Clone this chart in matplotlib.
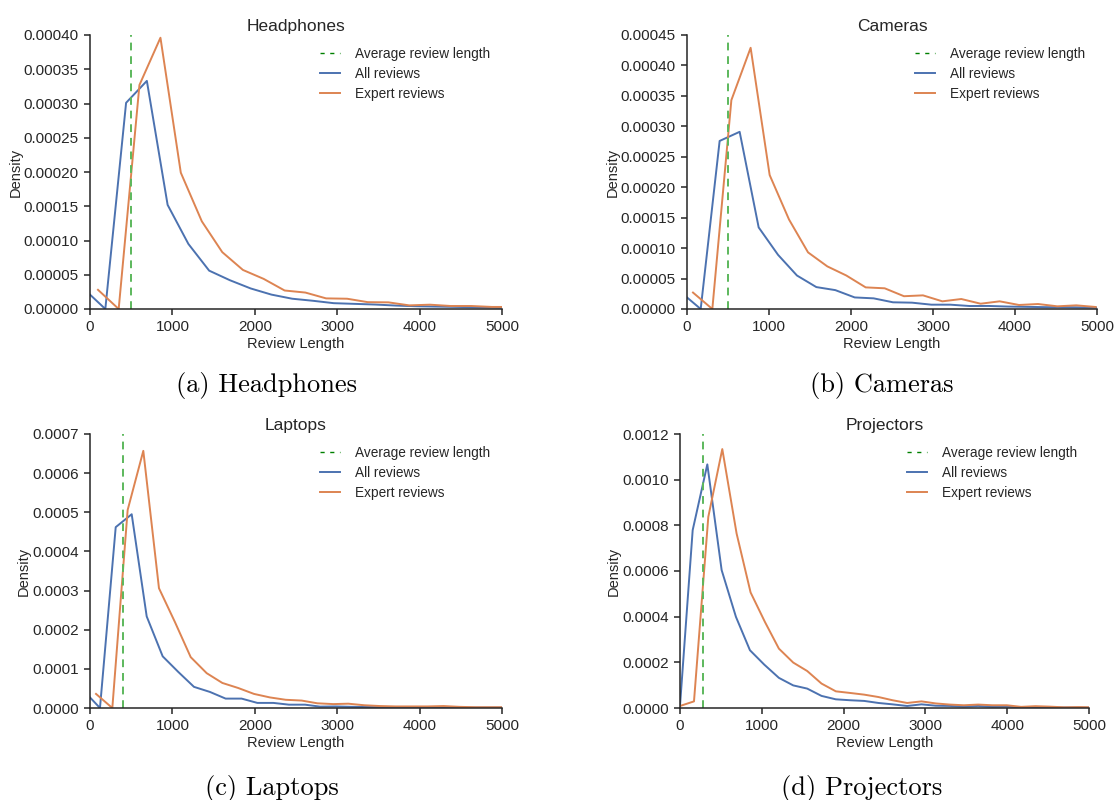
import matplotlib
matplotlib.use("Agg")
import matplotlib.pyplot as plt
from matplotlib.lines import Line2D
from matplotlib.ticker import FormatStrFormatter, MultipleLocator

plt.rcParams["font.family"] = ["Liberation Sans", "DejaVu Sans"]

# ---- data ----
titles = ["Headphones", "Cameras", "Laptops", "Projectors"]
captions = ["(a) Headphones", "(b) Cameras", "(c) Laptops", "(d) Projectors"]
avg_len = [500, 500, 405, 277]

hp_all_x = [0, 186, 438, 690, 942, 1194, 1446, 1698, 1950, 2202, 2454, 2706, 2958, 3210,
            3462, 3714, 3966, 4218, 4470, 4722, 4974, 5226]
hp_all_y = [0.000021, 0, 0.000301, 0.000333, 0.000152, 0.000095, 0.000056, 0.000042, 0.000030,
            0.000021, 0.000015, 0.000012, 0.0000085, 0.0000075, 0.0000065, 0.000005, 0.000004,
            0.0000035, 0.000003, 0.0000025, 0.000002, 0.000002]
hp_exp_x = [97, 348, 600, 855, 1102, 1357, 1605, 1856, 2107, 2362, 2614, 2865, 3120, 3371,
            3622, 3874, 4125, 4376, 4627, 4878, 5130]
hp_exp_y = [0.000028, 0, 0.000327, 0.000396, 0.000199, 0.000128, 0.000083, 0.000057, 0.000044,
            0.000027, 0.000024, 0.0000155, 0.000015, 0.000010, 0.0000097, 0.0000053, 0.0000063,
            0.0000044, 0.0000044, 0.000003, 0.000003]

cam_all_x = [0, 167, 398, 642, 874, 1110, 1341, 1577, 1809, 2045, 2276, 2512, 2744, 2980, 3211,
             3447, 3680, 3915, 4150, 4385, 4620, 4855, 5090]
cam_all_y = [0.000019, 0, 0.000276, 0.000291, 0.000134, 0.000089, 0.000055, 0.000036, 0.000031,
             0.000019, 0.0000175, 0.000011, 0.0000104, 0.0000071, 0.0000071, 0.0000049, 0.000005,
             0.000004, 0.0000035, 0.000003, 0.000003, 0.0000025, 0.000002]
cam_exp_x = [73, 309, 541, 776, 1008, 1244, 1476, 1711, 1943, 2179, 2411, 2646, 2878, 3114, 3345,
             3581, 3813, 4049, 4281, 4516, 4748, 4984]
cam_exp_y = [0.000027, 0, 0.000343, 0.000429, 0.00022, 0.000147, 0.000093, 0.00007, 0.000055,
             0.0000355, 0.000034, 0.000021, 0.0000224, 0.0000126, 0.0000164, 0.0000087, 0.0000126,
             0.0000066, 0.0000082, 0.0000044, 0.000006, 0.0000033]

lap_all_x = [0, 121, 312, 506, 688, 882, 1072, 1262, 1456, 1646, 1840, 2031, 2225, 2415, 2609,
             2791, 2985, 3175, 3370, 3560, 3750, 3945, 4135, 4330, 4520, 4710, 4905, 5100]
lap_all_y = [0.000027, 0, 0.000462, 0.000495, 0.000234, 0.000132, 0.000092, 0.000054, 0.000041,
             0.000024, 0.000024, 0.000013, 0.000013, 0.0000085, 0.0000085, 0.0000035, 0.000004,
             0.000003, 0.0000025, 0.000002, 0.000002, 0.0000015, 0.0000015, 0.000001, 0.000001,
             0.000001, 0.000001, 0.000001]
lap_exp_x = [73, 271, 457, 647, 837, 1032, 1222, 1416, 1606, 1800, 1990, 2184, 2375, 2569, 2759,
             2953, 3135, 3330, 3520, 3710, 3905, 4095, 4290, 4480, 4670, 4865, 5055]
lap_exp_y = [0.000036, 0, 0.000506, 0.000657, 0.000306, 0.000219, 0.00013, 0.000089, 0.000064,
             0.000051, 0.000036, 0.000027, 0.000021, 0.000019, 0.000012, 0.000010, 0.000011,
             0.000007, 0.000005, 0.000004, 0.000004, 0.000004, 0.000005, 0.000003, 0.000002,
             0.000002, 0.000002]

proj_all_x = [0, 155, 334, 509, 684, 855, 1030, 1209, 1384, 1555, 1730, 1905, 2077, 2252, 2427,
              2598, 2777, 2952, 3127, 3298, 3470, 3645, 3820, 3995, 4170, 4345, 4520, 4695, 4870, 5045]
proj_all_y = [0.00001, 0.000779, 0.001067, 0.000604, 0.000399, 0.000253, 0.00019, 0.000132,
              0.000099, 0.000085, 0.000053, 0.000038, 0.000034, 0.000031, 0.000022, 0.000016,
              0.0000088, 0.000016, 0.00001, 0.000009, 0.000006, 0.000009, 0.000005, 0.000006,
              0.000003, 0.000003, 0.000002, 0.000002, 0.000002, 0.000001]
proj_exp_x = [0, 171, 346, 517, 692, 863, 1038, 1209, 1384, 1555, 1730, 1905, 2077, 2252, 2427,
              2598, 2777, 2952, 3127, 3298, 3470, 3645, 3820, 3995, 4170, 4345, 4520, 4695, 4870, 5045]
proj_exp_y = [0.0000088, 0.000029, 0.000837, 0.001134, 0.000764, 0.000506, 0.000377, 0.00026,
              0.000199, 0.000162, 0.000107, 0.000073, 0.000066, 0.0000585, 0.000048, 0.000034,
              0.000022, 0.000029, 0.00002, 0.000015, 0.000012, 0.000015, 0.000012, 0.000012,
              0.000005, 0.000008, 0.000006, 0.000003, 0.000004, 0.000003]

all_x = [hp_all_x, cam_all_x, lap_all_x, proj_all_x]
all_y = [hp_all_y, cam_all_y, lap_all_y, proj_all_y]
exp_x = [hp_exp_x, cam_exp_x, lap_exp_x, proj_exp_x]
exp_y = [hp_exp_y, cam_exp_y, lap_exp_y, proj_exp_y]
ymax = [0.0004, 0.00045, 0.0007, 0.0012]
ystep = [0.00005, 0.00005, 0.0001, 0.0002]
yfmt = ["%.5f", "%.5f", "%.4f", "%.4f"]

BLUE = "#4c72b0"
ORANGE = "#dd8452"
GREEN = "#5cb85c"
DARK = "#262626"

W, H = 1114, 800
fig = plt.figure(figsize=(W / 100, H / 100), dpi=100)

# axes boxes in pixels: left, top, right, bottom
boxes = [(90, 35, 502, 309), (687, 35, 1097, 309),
         (90, 434, 502, 708), (680, 434, 1089, 708)]
cap_pos = [(266, 386), (882, 386), (272, 788), (862, 788)]

for i in range(4):
    l, t, r, b = boxes[i]
    ax = fig.add_axes([l / W, 1 - b / H, (r - l) / W, (b - t) / H])
    ax.plot(all_x[i], all_y[i], color=BLUE, lw=1.4)
    ax.plot(exp_x[i], exp_y[i], color=ORANGE, lw=1.4)
    ax.axvline(avg_len[i], color=GREEN, lw=1.4, ls=(0, (4, 3)))
    ax.set_xlim(0, 5000)
    ax.set_ylim(0, ymax[i])
    ax.xaxis.set_major_locator(MultipleLocator(1000))
    ax.yaxis.set_major_locator(MultipleLocator(ystep[i]))
    ax.yaxis.set_major_formatter(FormatStrFormatter(yfmt[i]))
    for s in ["top", "right"]:
        ax.spines[s].set_visible(False)
    for s in ["left", "bottom"]:
        ax.spines[s].set_color(DARK)
        ax.spines[s].set_linewidth(1.1)
    ax.tick_params(direction="out", length=4.5, width=1.1, color=DARK,
                   labelsize=11, labelcolor=DARK)
    ax.set_xlabel("Review Length", fontsize=10.5, color=DARK, labelpad=2)
    ax.set_ylabel("Density", fontsize=10.5, color=DARK, labelpad=1)
    ax.set_title(titles[i], fontsize=12.5, color=DARK, pad=3)

    handles = [Line2D([], [], color="green", lw=1.0, ls=(0, (3, 4))),
               Line2D([], [], color=BLUE, lw=1.4),
               Line2D([], [], color=ORANGE, lw=1.4)]
    ax.legend(handles, ["Average review length", "All reviews", "Expert reviews"],
              loc="upper right", frameon=False, fontsize=9.8, handlelength=1.5,
              handletextpad=1.05, labelspacing=0.42, borderaxespad=0.5,
              labelcolor=DARK)

    fig.text(cap_pos[i][0] / W, 1 - cap_pos[i][1] / H, captions[i], family="cmr10",
             fontsize=19, ha="center", va="center")

fig.savefig("out.png", dpi=100)
